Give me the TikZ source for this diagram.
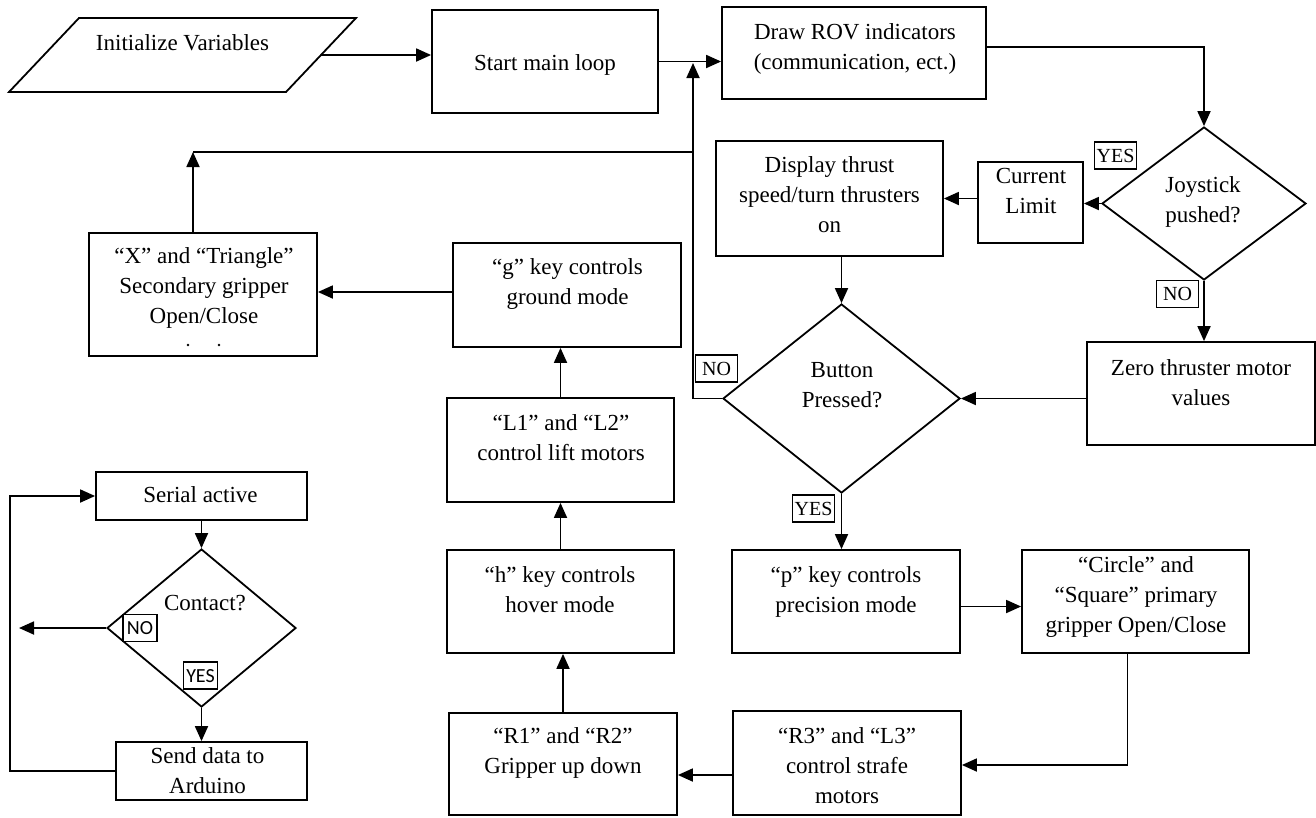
\documentclass[tikz,border=0pt]{standalone}
\usepackage{fontspec}
\setmainfont{Liberation Serif}
\newfontfamily\tagsans{Carlito}
\usetikzlibrary{arrows.meta,shapes.geometric,calc}

% rectangle node given by its corners: name, x1, y1, x2, y2
\newcommand\flowbox[5]{%
  \node[box, minimum width={(#4-#2)*1pt}, minimum height={(#5-#3)*1pt}]
    (#1) at ({(#2+#4)/2},{(#3+#5)/2}) {};}

\begin{document}
\begin{tikzpicture}[x=1pt,y=-1pt,
  line width=1.8pt,
  arr/.style={-{Triangle[length=15pt,width=13pt]}},
  box/.style={draw, rectangle, inner sep=0pt},
  dec/.style={draw, diamond, inner sep=0pt},
  txt/.style={align=center, inner sep=0pt, font=\fontsize{23}{30}\selectfont},
  tag/.style={draw, fill=white, line width=1.5pt, inner xsep=2pt, inner ysep=0pt,
    minimum width=42pt, minimum height=27pt, text height=13.5pt, text depth=0pt,
    font=\fontsize{20}{24}\selectfont},
  sanstag/.style={tag, minimum width=34pt, font=\tagsans\fontsize{20}{24}\selectfont}]

\fill[white] (0,0) rectangle (1316,817);
\useasboundingbox (0,0) rectangle (1316,817);

% ---- input parallelogram ----
\coordinate (initTL) at (79,18);
\coordinate (initTR) at (356,18);
\coordinate (initBR) at (286,92);
\coordinate (initBL) at (9,92);
\draw[line join=miter] (initTL) -- (initTR) -- (initBR) -- (initBL) -- cycle;

% ---- shapes ----
\flowbox{start}{432}{10}{658}{113}
\flowbox{rov}{722}{7}{986}{99}
\flowbox{curr}{978}{162}{1083}{243}
\flowbox{disp}{716}{141}{943}{256}
\flowbox{zero}{1087}{342}{1315}{445}
\flowbox{xtri}{89}{233}{317}{356}
\flowbox{gkey}{453}{243}{681}{347}
\flowbox{lift}{447}{398}{674}{502}
\flowbox{hkey}{447}{550}{674}{653}
\flowbox{grip}{449}{713}{677}{815}
\flowbox{strafe}{733}{711}{961}{815}
\flowbox{circ}{1022}{550}{1249}{653}
\flowbox{pkey}{732}{550}{960}{653}
\flowbox{serial}{96}{472}{307}{520}
\flowbox{send}{116}{742}{307}{800}

\node[dec, minimum width=204pt, minimum height=153pt] (joy) at (1204,203.5) {};
\node[dec, minimum width=237pt, minimum height=189pt] (button) at (841.5,398.5) {};
\node[dec, minimum width=189pt, minimum height=158pt] (contact) at (201.5,628) {};

% ---- texts ----
\node[txt] (init) at (182.5,44) {\strut Initialize Variables};
\node[txt] (start-t) at (545,64) {\strut Start main loop};
\node[txt] (rov-t) at (855,48) {\strut Draw ROV indicators\\\strut (communication, ect.)};
\node[txt] (curr-t) at (1031,192) {\strut Current\\\strut Limit};
\node[txt] (joy-t) at (1203,201) {\strut Joystick\\\strut pushed?};
\node[txt] (disp-t) at (829.5,196) {\strut Display thrust\\\strut speed/turn thrusters\\\strut on};
\node[txt] (xtri-t) at (204,287) {\strut “X” and “Triangle”\\\strut Secondary gripper\\\strut Open/Close};
\node[txt] (gkey-t) at (567.5,283) {\strut “g” key controls\\\strut ground mode};
\node[txt] (lift-t) at (561,439) {\strut “L1” and “L2”\\\strut control lift motors};
\node[txt] (hkey-t) at (560,591) {\strut “h” key controls\\\strut hover mode};
\node[txt] (grip-t) at (563,752) {\strut “R1” and “R2”\\\strut Gripper up down};
\node[txt] (strafe-t) at (847,767) {\strut “R3” and “L3”\\\strut control strafe\\\strut motors};
\node[txt] (pkey-t) at (846,591) {\strut “p” key controls\\\strut precision mode};
\node[txt] (circ-t) at (1136,596) {\strut “Circle” and\\\strut “Square” primary\\\strut gripper Open/Close};
\node[txt] (zero-t) at (1201,384) {\strut Zero thruster motor\\\strut values};
\node[txt] (button-t) at (842,386) {\strut Button\\\strut Pressed?};
\node[txt] (serial-t) at (200.5,496) {\strut Serial active};
\node[txt] (contact-t) at (205,604) {\strut Contact?};
\node[txt] (send-t) at (207.5,772) {\strut Send data to\\\strut Arduino};

% remnants of a clipped line below "Open/Close"
\fill (188,345) circle (1.3pt);
\fill (219,345) circle (1.3pt);

% ---- helper points ----
\coordinate (initR) at ($(initTR)!0.5!(initBR)$);
\coordinate (merge) at (693,63);
\coordinate (junc) at (693,152);
\coordinate (bend) at (193,152);
\coordinate (contactOut) at (19,628);
\coordinate (loopx) at (10,771);

% ---- connectors ----
\draw[arr] (initR) -- (initR -| start.west);
\draw[arr] (start.east) -- (start.east -| rov.west);
\draw[arr] ([yshift=6pt]rov.east) -| (joy.north);
\draw[arr] (joy.west) -- (joy.west -| curr.east);
\draw[arr] ([yshift=4pt]curr.west) -- ([yshift=4pt]curr.west -| disp.east);
\draw[arr] (disp.south -| button.north) -- (button.north);
\draw[arr] (joy.south) -- (joy.south |- zero.north);
\draw[arr] (zero.west |- button.east) -- (button.east);
\draw[arr] (button.west) -- (button.west -| merge) -- (merge);
\draw (junc) -- (bend);
\draw[arr] (bend |- xtri.north) -- (bend);
\draw[arr] ([yshift=3pt]gkey.west) -- ([yshift=3pt]gkey.west -| xtri.east);
\draw[arr] (lift.north) -- (lift.north |- gkey.south);
\draw[arr] (hkey.north) -- (hkey.north |- lift.south);
\draw[arr] (grip.north) -- (grip.north |- hkey.south);
\draw[arr] ([yshift=-12pt]strafe.west) -- ([yshift=-12pt]strafe.west -| grip.east);
\draw[arr] ([xshift=-8pt]circ.south) |- ([yshift=-2pt]strafe.east);
\draw[arr] ([yshift=-5pt]pkey.east) -- ([yshift=-5pt]circ.west);
\draw[arr] (button.south) -- (button.south |- pkey.north);
\draw[arr] (serial.south) -- (contact.north);
\draw[arr] (contact.west) -- (contactOut);
\draw[arr] (contact.south) -- (contact.south |- send.north);
\draw[arr] (send.west |- loopx) -- (loopx) |- (serial.west);

% ---- branch tags ----
\node[tag] (yesJ) at (1115.5,155.5) {YES};
\node[tag] (noJ) at (1177.5,294) {NO};
\node[tag] (noB) at (716.5,368.5) {NO};
\node[tag] (yesB) at (813.5,508.5) {YES};
\node[sanstag] (noC) at (140,628) {NO};
\node[sanstag] (yesC) at (200.5,675.5) {YES};
\end{tikzpicture}
\end{document}
